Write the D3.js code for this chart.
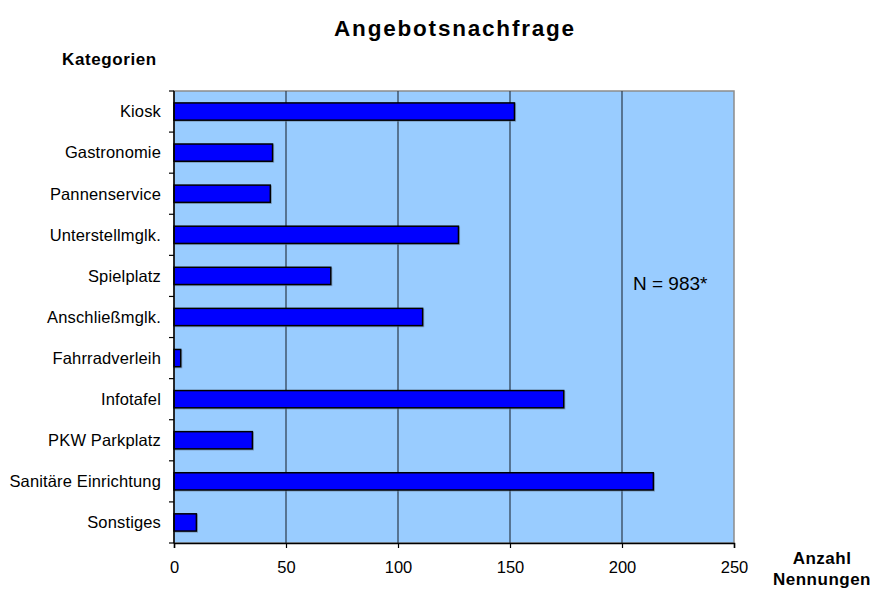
<!DOCTYPE html>
<html>
<head>
<meta charset="utf-8">
<script src="https://cdn.jsdelivr.net/npm/d3@7"></script>
<style>
  html, body { margin: 0; padding: 0; background: #fff; }
  svg { display: block; font-family: "Liberation Sans", Arial, sans-serif; }
</style>
</head>
<body>
<svg id="chart" width="872" height="592"></svg>
<script>
// Angebotsnachfrage: Anzahl der Nennungen je Kategorie
const categories = ["Kiosk", "Gastronomie", "Pannenservice", "Unterstellmglk.", "Spielplatz",
  "Anschließmglk.", "Fahrradverleih", "Infotafel", "PKW Parkplatz", "Sanitäre Einrichtung", "Sonstiges"];
const counts = [152, 44, 43, 127, 70, 111, 3, 174, 35, 214, 10];
const xTicks = [0, 50, 100, 150, 200, 250];
const totalLabel = "N = 983*";

const svg = d3.select("#chart");
const plot = { left: 174, right: 734, top: 91, bottom: 543 };

const x = d3.scaleLinear().domain([0, 250]).range([plot.left, plot.right]);
const y = d3.scaleBand().domain(categories).range([plot.top, plot.bottom])
  .paddingInner(0.58).paddingOuter(0.29);
const yEdges = d3.scaleBand().domain(categories).range([plot.top, plot.bottom]);

// Plot background
svg.append("rect")
  .attr("x", plot.left).attr("y", plot.top)
  .attr("width", plot.right - plot.left).attr("height", plot.bottom - plot.top)
  .attr("fill", "#99CCFF").attr("stroke", "#8c8c8c").attr("stroke-width", 1.5);

// Vertical gridlines
svg.append("g").selectAll("line")
  .data(xTicks.filter(d => d > 0 && d < 250))
  .join("line")
  .attr("x1", d => x(d)).attr("x2", d => x(d))
  .attr("y1", plot.top).attr("y2", plot.bottom)
  .attr("stroke", "#2b3a4a").attr("stroke-width", 1.2);

// Bars with a soft shadow
const barG = svg.append("g");
barG.selectAll("rect.shadow")
  .data(categories)
  .join("rect")
  .attr("class", "shadow")
  .attr("x", x(0) + 1)
  .attr("y", d => y(d) + 1)
  .attr("width", (d, i) => x(counts[i]) - x(0))
  .attr("height", y.bandwidth())
  .attr("fill", "none").attr("stroke", "#6a7f99").attr("stroke-width", 1.2).attr("opacity", 0.6);
barG.selectAll("rect.bar")
  .data(categories)
  .join("rect")
  .attr("class", "bar")
  .attr("x", x(0))
  .attr("y", d => y(d))
  .attr("width", (d, i) => x(counts[i]) - x(0))
  .attr("height", y.bandwidth())
  .attr("fill", "#0000FF").attr("stroke", "#000").attr("stroke-width", 1.5);

// Y axis (category axis) with ticks at band edges
const yAxisG = svg.append("g");
yAxisG.append("line")
  .attr("x1", plot.left).attr("x2", plot.left)
  .attr("y1", plot.top).attr("y2", plot.bottom)
  .attr("stroke", "#000").attr("stroke-width", 1.5);
const edges = categories.map(c => yEdges(c)).concat([plot.bottom]);
yAxisG.selectAll("line.tick")
  .data(edges)
  .join("line")
  .attr("class", "tick")
  .attr("x1", plot.left - 5).attr("x2", plot.left)
  .attr("y1", d => d).attr("y2", d => d)
  .attr("stroke", "#000").attr("stroke-width", 1.2);
yAxisG.selectAll("text")
  .data(categories)
  .join("text")
  .attr("x", plot.left - 13)
  .attr("y", d => yEdges(d) + yEdges.bandwidth() / 2)
  .attr("dy", "0.35em")
  .attr("text-anchor", "end")
  .attr("font-size", 16.5)
  .attr("letter-spacing", 0.15)
  .attr("fill", "#000")
  .text(d => d);

// X axis
const xAxis = d3.axisBottom(x).tickValues(xTicks).tickSize(5);
const xAxisG = svg.append("g")
  .attr("transform", `translate(0,${plot.bottom})`)
  .call(xAxis);
xAxisG.select(".domain").attr("stroke", "#000").attr("stroke-width", 1.5);
xAxisG.selectAll(".tick line").attr("stroke", "#000").attr("stroke-width", 1.2);
xAxisG.selectAll(".tick text")
  .attr("y", 30).attr("dy", 0)
  .attr("font-size", 16.5).attr("fill", "#000")
  .attr("font-family", "'Liberation Sans', Arial, sans-serif");

// Titles
svg.append("text")
  .attr("x", 455).attr("y", 36)
  .attr("text-anchor", "middle")
  .attr("font-size", 22.5).attr("font-weight", "bold")
  .attr("letter-spacing", 1.8)
  .text("Angebotsnachfrage");

svg.append("text")
  .attr("x", 62).attr("y", 65)
  .attr("font-size", 17).attr("font-weight", "bold")
  .attr("letter-spacing", 0.6)
  .text("Kategorien");

const xt = svg.append("text")
  .attr("text-anchor", "middle")
  .attr("font-size", 17).attr("font-weight", "bold")
  .attr("letter-spacing", 0.5);
xt.append("tspan").attr("x", 822).attr("y", 564).text("Anzahl");
xt.append("tspan").attr("x", 822).attr("y", 585).text("Nennungen");

// Total annotation
svg.append("text")
  .attr("x", 633).attr("y", 290)
  .attr("font-size", 19)
  .text(totalLabel);
</script>
</body>
</html>
